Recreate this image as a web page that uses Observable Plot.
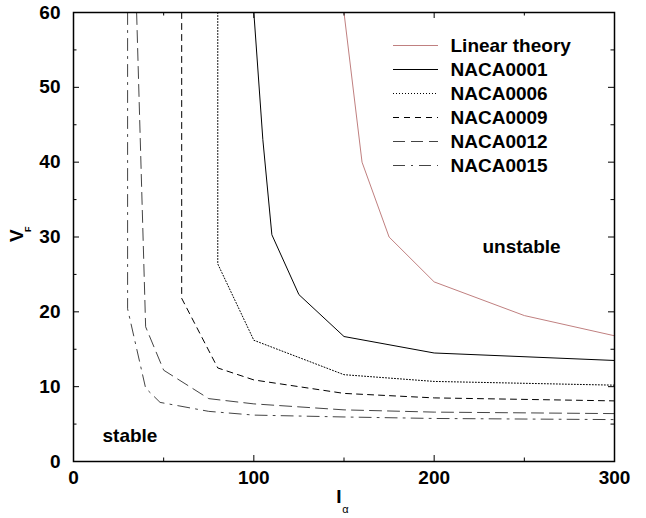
<!DOCTYPE html>
<html><head><meta charset="utf-8">
<script src="https://cdn.jsdelivr.net/npm/d3@7"></script>
<script src="https://cdn.jsdelivr.net/npm/@observablehq/plot@0.6"></script>
<style>body{margin:0;background:#fff}</style>
</head><body><div id="chart"></div>
<script>
// ---- data ----
const seriesNames = ["Linear theory", "NACA0001", "NACA0006", "NACA0009", "NACA0012", "NACA0015"];
const linearI = [150, 160, 175, 200, 250, 300];
const linearV = [60, 40, 30, 24, 19.5, 16.8];
const naca0001I = [100, 105, 110, 125, 150, 200, 300];
const naca0001V = [60, 43, 30.3, 22.3, 16.7, 14.5, 13.5];
const naca0006I = [80, 80, 100, 150, 200, 300];
const naca0006V = [60, 26.4, 16.2, 11.6, 10.7, 10.2];
const naca0009I = [60, 60, 80, 100, 150, 200, 300];
const naca0009V = [60, 21.8, 12.5, 10.9, 9.1, 8.5, 8.1];
const naca0012I = [35, 40, 50, 75, 100, 150, 200, 300];
const naca0012V = [60, 18, 12.2, 8.4, 7.7, 6.9, 6.6, 6.4];
const naca0015I = [30, 30, 40, 48, 75, 100, 150, 200, 300];
const naca0015V = [60, 20.4, 9.8, 7.9, 6.7, 6.2, 5.95, 5.75, 5.6];
const xTickLabels = [0, 100, 200, 300];
const xMinorTicks = [50, 150, 250];
const yTickLabels = [0, 10, 20, 30, 40, 50, 60];
const yMinorTicks = [5, 15, 25, 35, 45, 55];
const regionLabels = ["stable", "unstable"];

const seriesI = [linearI, naca0001I, naca0006I, naca0009I, naca0012I, naca0015I];
const seriesV = [linearV, naca0001V, naca0006V, naca0009V, naca0012V, naca0015V];
const rows = [];
seriesNames.forEach((name, s) => seriesI[s].forEach((x, k) => rows.push({series: name, I: x, V: seriesV[s][k]})));

// ---- styles / layout ----
const strokes = ["#c08080", "#000", "#000", "#000", "#444", "#444"];
const dashes = [null, null, "1,2", "6,5", "12,6", "12,6,2,6"];
const W = 646, H = 518, mL = 73, mR = 32, mT = 12, mB = 57;
const FS = 19;
const xDom = [0, 300], yDom = [0, 60];
const pxX = (W - mL - mR) / (xDom[1] - xDom[0]);
const pxY = (H - mT - mB) / (yDom[1] - yDom[0]);
const toX = px => xDom[0] + (px - mL) / pxX;
const toY = py => yDom[1] - (py - mT) / pxY;
const major = 6, minor = 3.5;

const marks = [];
seriesNames.forEach((name, s) => {
  marks.push(Plot.line(rows.filter(r => r.series === name), {
    x: "I", y: "V", stroke: strokes[s], strokeWidth: 1, strokeDasharray: dashes[s], clip: true
  }));
});
// legend
seriesNames.forEach((name, s) => {
  const py = 45 + 24 * s;
  marks.push(Plot.ruleY([toY(py)], {x1: toX(393), x2: toX(438), y: d => d, stroke: strokes[s], strokeWidth: 1, strokeDasharray: dashes[s]}));
  marks.push(Plot.text([name], {x: toX(450), y: toY(py), text: d => d, textAnchor: "start", lineAnchor: "middle", fill: "#000"}));
});
// tick marks (inward, mirrored)
const tick = (vals, len, axis) => axis === "x"
  ? [Plot.ruleX(vals, {x: d => d, y1: yDom[0], y2: yDom[0] + len / pxY, stroke: "#000"}),
     Plot.ruleX(vals, {x: d => d, y1: yDom[1] - len / pxY, y2: yDom[1], stroke: "#000"})]
  : [Plot.ruleY(vals, {y: d => d, x1: xDom[0], x2: xDom[0] + len / pxX, stroke: "#000"}),
     Plot.ruleY(vals, {y: d => d, x1: xDom[1] - len / pxX, x2: xDom[1], stroke: "#000"})];
marks.push(...tick(xTickLabels, major, "x"), ...tick(xMinorTicks, minor, "x"),
           ...tick(yTickLabels, major, "y"), ...tick(yMinorTicks, minor, "y"));
marks.push(Plot.frame({stroke: "#000", strokeWidth: 1.5}));
marks.push(Plot.axisX(xTickLabels, {anchor: "bottom", tickSize: 0, tickPadding: 9, label: null}));
marks.push(Plot.axisY(yTickLabels, {anchor: "left", tickSize: 0, tickPadding: 13, label: null}));
// region labels
marks.push(Plot.text([regionLabels[0]], {x: toX(102), y: toY(441.7 - 0.32 * FS), text: d => d, textAnchor: "start"}));
marks.push(Plot.text([regionLabels[1]], {x: toX(482), y: toY(252 - 0.32 * FS), text: d => d, textAnchor: "start"}));
// axis titles
marks.push(Plot.text(["V"], {frameAnchor: "left", text: d => d, rotate: -90, dx: -56.5, dy: 5}));
marks.push(Plot.text(["F"], {frameAnchor: "left", text: d => d, rotate: -90, dx: -45, dy: -5, fontSize: 9}));
marks.push(Plot.text(["I"], {frameAnchor: "bottom", text: d => d, dx: -5, dy: 41}));
marks.push(Plot.text(["α"], {frameAnchor: "bottom", text: d => d, dx: 1.5, dy: 51, fontSize: 11, fontWeight: "normal"}));

const chart = Plot.plot({
  width: W, height: H,
  marginLeft: mL, marginRight: mR, marginTop: mT, marginBottom: mB,
  x: {domain: xDom},
  y: {domain: yDom},
  style: {fontFamily: "'Liberation Sans', Arial, Helvetica, sans-serif", fontSize: FS + "px", fontWeight: "bold", background: "#fff", color: "#000"},
  marks
});
document.getElementById("chart").append(chart);
</script>
</body></html>
